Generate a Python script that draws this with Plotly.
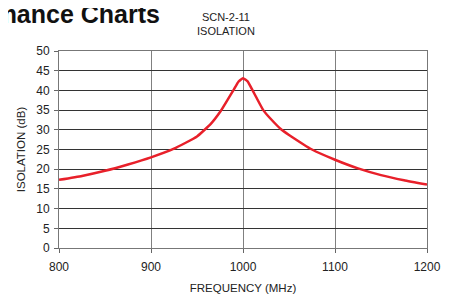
import plotly.graph_objects as go

freq_mhz = [800, 825, 850, 875, 900, 925, 950, 965, 975, 985, 990, 995, 1000,
            1005, 1010, 1015, 1022, 1030, 1042, 1050, 1075, 1100, 1125, 1150, 1175, 1200]
isolation_db = [17.3, 18.3, 19.6, 21.2, 23.0, 25.2, 28.3, 31.5, 34.5, 38.3, 40.2, 42.2, 43.1,
                42.3, 40.2, 38.0, 35.0, 32.8, 30.0, 28.7, 25.0, 22.4, 20.2, 18.5, 17.2, 16.1]
x_ticks = [800, 900, 1000, 1100, 1200]
y_ticks = [0, 5, 10, 15, 20, 25, 30, 35, 40, 45, 50]

font = "Liberation Sans, Arial, sans-serif"

# the plotly div sits OFF pixels from the window's top-left (body margin)
OFF = 8
L, T, R, B = 59, 51, 427, 248  # plot area in window pixels
W, H = 449, 296
pw, ph = R - L, B - T


def px(x):
    return (x - L) / pw


def py(y):
    return (B - y) / ph


fig = go.Figure()
fig.add_trace(go.Scatter(x=freq_mhz, y=isolation_db, mode="lines",
                         line=dict(color="#e8202a", width=2.5, shape="spline", smoothing=0.4),
                         showlegend=False, hoverinfo="skip"))

fig.update_layout(
    width=W, height=H,
    margin=dict(l=L - OFF, r=W - (R - OFF), t=T - OFF, b=H - (B - OFF), pad=0),
    paper_bgcolor="white", plot_bgcolor="white",
    font=dict(family=font, size=12, color="#222"),
    xaxis=dict(range=[800, 1200], tickvals=x_ticks, ticks="outside", ticklen=4,
               tickcolor="#666", showgrid=True, gridcolor="#808080", gridwidth=1,
               showline=True, linecolor="#777", linewidth=1, mirror=True,
               zeroline=False, tickfont=dict(size=12), ticklabelstandoff=4,
               automargin=False,
               title=dict(text="FREQUENCY (MHz)", font=dict(size=11.5), standoff=10)),
    yaxis=dict(range=[0, 50], tickvals=y_ticks, ticks="outside", ticklen=4,
               tickcolor="#666", showgrid=True, gridcolor="#333", gridwidth=1,
               showline=True, linecolor="#777", linewidth=1, mirror=True,
               zeroline=False, tickfont=dict(size=12), ticklabelstandoff=2,
               automargin=False,
               title=dict(text="ISOLATION (dB)", font=dict(size=11.5), standoff=8)),
    annotations=[
        dict(text="SCN-2-11<br>ISOLATION", x=px(226), y=py(24), xref="paper", yref="paper",
             showarrow=False, font=dict(size=11, family=font, color="#222"),
             xanchor="center", yanchor="middle"),
        dict(text="<b>Performance Charts</b>", x=px(162), y=py(14), xref="paper", yref="paper",
             showarrow=False, font=dict(size=25, family=font, color="#111"),
             xanchor="right", yanchor="middle"),
    ],
)

fig.write_html("out.html")
